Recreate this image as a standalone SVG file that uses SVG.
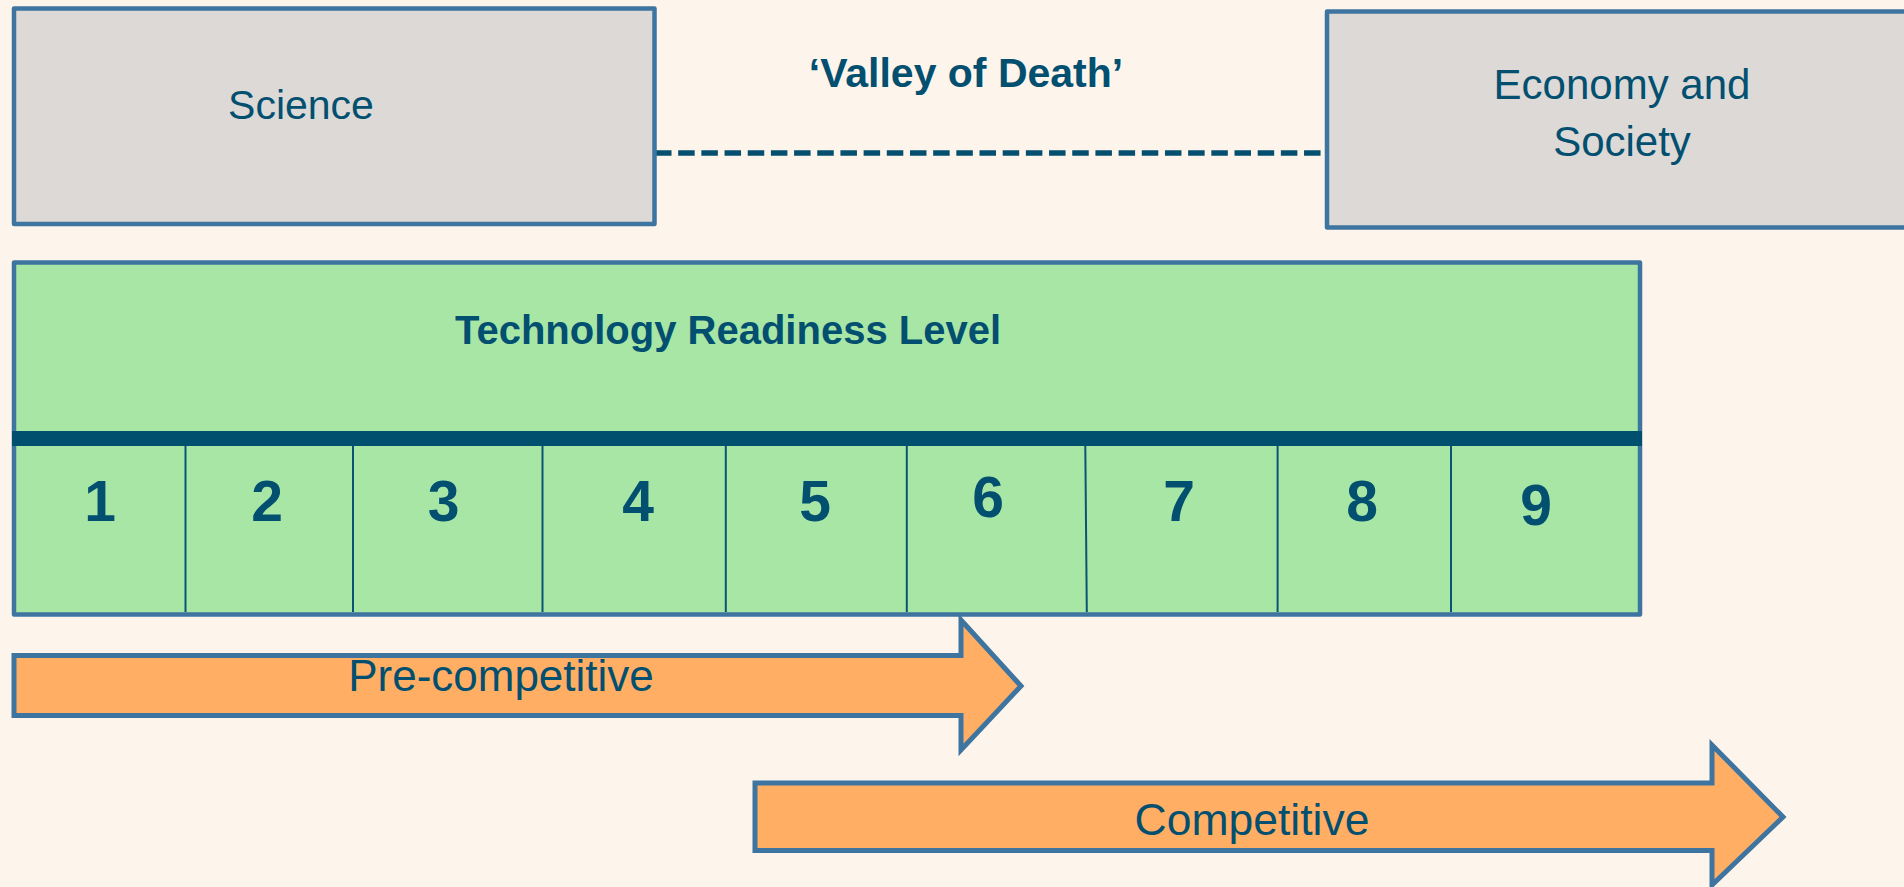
<svg xmlns="http://www.w3.org/2000/svg" width="1904" height="887" viewBox="0 0 1904 887">
<style>
.box{fill:#dcd9d6;stroke:#3e74a0;stroke-width:4.5;stroke-linejoin:round}
.trl{fill:#a8e6a6;stroke:#3e74a0;stroke-width:4.5;stroke-linejoin:round}
.arrow{fill:#ffae64;stroke:#3e74a0;stroke-width:5}
.div{stroke:#0a5575;stroke-width:2}
.t{font-family:"Liberation Sans",Arial,sans-serif;fill:#024f70;text-anchor:middle}
.b{font-weight:bold}
.num{font-family:"Liberation Sans",Arial,sans-serif;font-weight:bold;font-size:57px;fill:#024f70;text-anchor:middle}
</style>
<rect width="1904" height="887" fill="#fdf5eb"/>
<g id="connectors">
<line x1="655" y1="153" x2="1325" y2="153" stroke="#044f6f" stroke-width="5.5" stroke-dasharray="16.5 6.68"/>
</g>
<g id="science">
<rect class="box" x="14" y="8.5" width="640.5" height="215.5"/>
<text class="t" x="301" y="119" font-size="41">Science</text>
</g>
<g id="economy">
<rect class="box" x="1327" y="11.5" width="600" height="216"/>
<text class="t" x="1622" y="99" font-size="42">Economy and</text>
<text class="t" x="1622" y="156" font-size="42">Society</text>
</g>
<g id="valley">
<text class="t b" x="966" y="87" font-size="41">‘Valley of Death’</text>
</g>
<g id="trl">
<rect class="trl" x="14" y="262.5" width="1626" height="352"/>
<rect x="12" y="431" width="1630" height="15" fill="#004f6e"/>
<text class="t b" x="728" y="344" font-size="40">Technology Readiness Level</text>
<line class="div" x1="185.5" y1="446" x2="185.5" y2="612"/>
<line class="div" x1="353" y1="446" x2="353" y2="612"/>
<line class="div" x1="542.5" y1="446" x2="542.5" y2="612"/>
<line class="div" x1="725.8" y1="446" x2="725.8" y2="612"/>
<line class="div" x1="906.8" y1="446" x2="906.8" y2="612"/>
<line class="div" x1="1085.3" y1="446" x2="1086.8" y2="612"/>
<line class="div" x1="1277.6" y1="446" x2="1277.6" y2="612"/>
<line class="div" x1="1451" y1="446" x2="1451" y2="612"/>
<text class="num" x="100" y="521">1</text>
<text class="num" x="267" y="521">2</text>
<text class="num" x="443.5" y="521">3</text>
<text class="num" x="638" y="521">4</text>
<text class="num" x="815" y="521">5</text>
<text class="num" x="988" y="517">6</text>
<text class="num" x="1179" y="521">7</text>
<text class="num" x="1362" y="521">8</text>
<text class="num" x="1536" y="524.5">9</text>
</g>
<g id="pre-competitive">
<polygon class="arrow" points="14,655.5 961,655.5 961,620 1021,686 961,750 961,715.5 14,715.5"/>
<text class="t" x="501" y="691" font-size="44">Pre-competitive</text>
</g>
<g id="competitive">
<polygon class="arrow" points="755,783 1712,783 1712,745 1783,817 1712,885 1712,850.5 755,850.5"/>
<text class="t" x="1252" y="835" font-size="44.5">Competitive</text>
</g>
</svg>
